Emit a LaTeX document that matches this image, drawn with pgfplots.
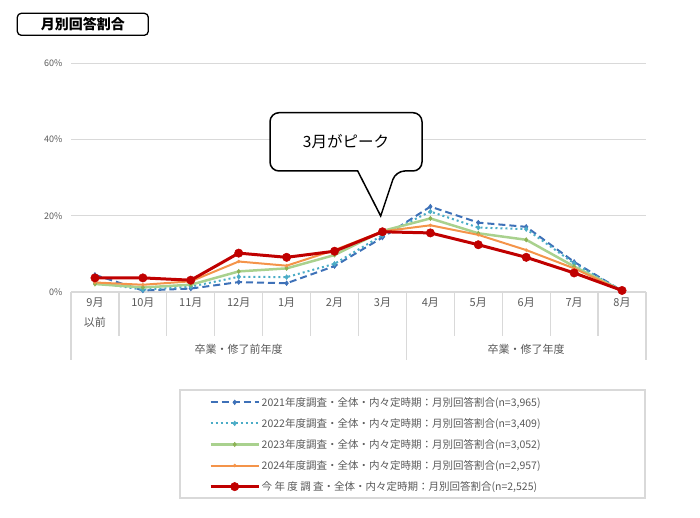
\documentclass[border=0pt]{standalone}
\usepackage{fontspec}
\setmainfont{Noto Sans CJK JP}
\usepackage{pgfplots}
\pgfplotsset{compat=1.18}

\definecolor{c21}{HTML}{3E71B8}
\definecolor{c22}{HTML}{4BACC6}
\definecolor{c23}{HTML}{A9D18E}
\definecolor{c23m}{HTML}{8DB255}
\definecolor{c24}{HTML}{F4944A}
\definecolor{cnow}{HTML}{C00000}
\definecolor{gridgray}{HTML}{D9D9D9}
\definecolor{txtgray}{HTML}{595959}

\begin{document}
\begin{tikzpicture}
\path[use as bounding box] (0,0) rectangle (700pt,-518pt);

\begin{axis}[
    at={(71pt,-292pt)}, anchor=south west,
    scale only axis, width=575pt, height=228.7pt,
    xmin=-0.5, xmax=11.5, ymin=0, ymax=60,
    ytick={0,20,40,60},
    yticklabels={0\%,20\%,40\%,60\%},
    xtick={0,...,11},
    xticklabels={{9月\\以前},10月,11月,12月,1月,2月,3月,4月,5月,6月,7月,8月},
    /pgf/number format/assume math mode=true,
    axis line style={draw=none},
    major tick length=0pt,
    ymajorgrids,
    grid style={gridgray, line width=1.2pt},
    yticklabel style={font=\fontsize{9}{10}\selectfont, text=txtgray, xshift=-5pt},
    xticklabel style={font=\fontsize{11}{20}\selectfont, text=txtgray, align=center, yshift=-2pt},
    clip=false,
    legend style={at={(0.24,-0.452)}, anchor=north west, draw=none, fill=none,
        inner sep=0pt, row sep=7.6pt, nodes={inner sep=1.5pt},
        font=\fontsize{10.5}{12}\selectfont, text=txtgray},
    legend cell align=left,
    legend image code/.code={
        \draw[mark repeat=2,mark phase=2] plot coordinates {(0pt,0pt) (24pt,0pt) (48pt,0pt)};},
]
% 2021
\addplot[c21, line width=2pt, dash pattern=on 7pt off 4pt, mark=diamond*, mark size=2.4pt, mark options={solid, line width=0.5pt}]
  coordinates {(0,4.5) (1,0.4) (2,0.9) (3,2.6) (4,2.3) (5,6.8) (6,14.3) (7,22.4) (8,18.2) (9,17.1) (10,7.9) (11,0.3)};
\addlegendentry{2021年度調査・全体・内々定時期：月別回答割合(n=3,965)}
% 2022
\addplot[c22, line width=2pt, dash pattern=on 2pt off 3pt, mark=diamond*, mark size=2.4pt, mark options={solid, line width=0.5pt}]
  coordinates {(0,2.5) (1,0.6) (2,1.4) (3,4.0) (4,3.9) (5,7.4) (6,14.9) (7,21.1) (8,16.9) (9,16.5) (10,7.5) (11,0.3)};
\addlegendentry{2022年度調査・全体・内々定時期：月別回答割合(n=3,409)}
% 2023
\addplot[c23, line width=2.5pt, mark=diamond*, mark size=2.2pt, mark options={fill=c23m, draw=c23m, line width=0.5pt}]
  coordinates {(0,2.1) (1,1.2) (2,1.9) (3,5.4) (4,6.2) (5,9.7) (6,16.0) (7,19.3) (8,15.4) (9,13.7) (10,6.7) (11,0.3)};
\addlegendentry{2023年度調査・全体・内々定時期：月別回答割合(n=3,052)}
% 2024
\addplot[c24, line width=2pt, mark=*, mark size=1.5pt, mark options={line width=0.5pt}]
  coordinates {(0,2.5) (1,1.9) (2,2.8) (3,8.0) (4,6.9) (5,11.0) (6,15.9) (7,17.5) (8,15.0) (9,11.0) (10,6.2) (11,0.3)};
\addlegendentry{2024年度調査・全体・内々定時期：月別回答割合(n=2,957)}
% this year
\addplot[cnow, line width=3pt, mark=*, mark size=4.2pt, mark options={line width=0.5pt}]
  coordinates {(0,3.7) (1,3.7) (2,3.1) (3,10.2) (4,9.1) (5,10.7) (6,15.8) (7,15.5) (8,12.4) (9,9.1) (10,5.0) (11,0.4)};
\addlegendentry{今 年 度 調 査・全体・内々定時期：月別回答割合(n=2,525)}
\end{axis}

\begin{scope}[x=1pt, y=-1pt]
  % category separators
  \foreach \k in {0,...,12} {
    \draw[gridgray, line width=1.2pt] ({71+\k*575/12},292) -- ({71+\k*575/12},336);
  }
  \foreach \k in {0,7,12} {
    \draw[gridgray, line width=1.2pt] ({71+\k*575/12},336) -- ({71+\k*575/12},360);
  }
  \node[text=txtgray, font=\fontsize{11}{13}\selectfont] at (238.7,349) {卒業・修了前年度};
  \node[text=txtgray, font=\fontsize{11}{13}\selectfont] at (526.2,349) {卒業・修了年度};

  % legend frame
  \draw[gridgray, line width=1.2pt] (180,390) rectangle (645,498);

  % title box
  \draw[line width=1.3pt, rounded corners=4pt] (17.3,13.3) rectangle (148.3,35.3);
  \node[font=\fontsize{14}{16}\selectfont\bfseries] at (82.8,24.3) {月別回答割合};

  % callout
  \draw[line width=1.5pt, fill=white, rounded corners=9pt]
    (270,112.7) -- (422,112.7) -- (422,171) -- (395.7,171)
    [sharp corners] -- (380.7,216) -- (357.7,171)
    [rounded corners=9pt] -- (270,171) -- cycle;
  \node[font=\fontsize{15.5}{18}\selectfont] at (346,142) {3月がピーク};
\end{scope}
\end{tikzpicture}
\end{document}
